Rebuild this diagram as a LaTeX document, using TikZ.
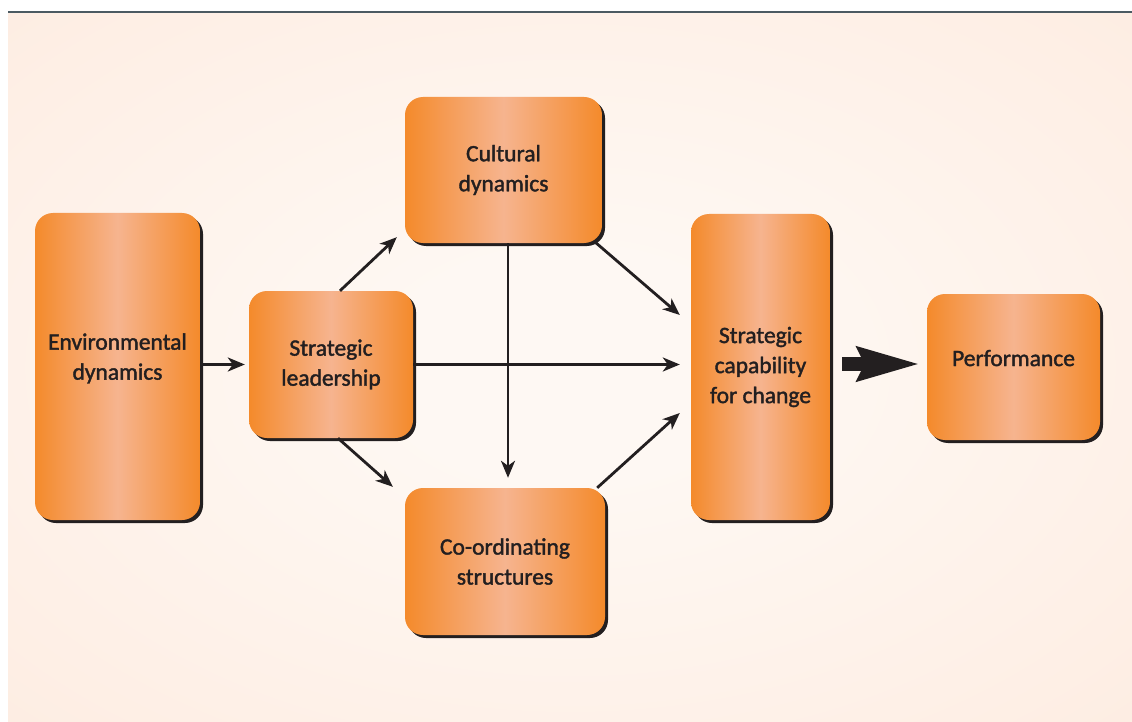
\documentclass[tikz,border=0pt]{standalone}
\usepackage{fontspec}
\setmainfont[FakeBold=1.6]{Carlito}
\usetikzlibrary{arrows.meta,calc,shadows}

\definecolor{bgout}{HTML}{FDE4D5}
\definecolor{bgin}{HTML}{FEF8F3}
\definecolor{rulecol}{HTML}{4B5A62}
\definecolor{boxdark}{HTML}{F48A2B}
\definecolor{boxlight}{HTML}{F6B48F}
\definecolor{ink}{HTML}{231F20}

\pgfdeclareradialshading{bgglow}{\pgfpoint{0bp}{0bp}}{%
  color(0bp)=(bgin); color(8bp)=(bgin); color(58bp)=(bgout); color(72bp)=(bgout)}

\tikzset{
  block/.style={
    rectangle, rounded corners=18pt,
    left color=boxdark, right color=boxdark, middle color=boxlight,
    draw=none, text=ink, align=center, inner sep=0pt,
    font=\fontsize{23.5}{30}\selectfont,
    drop shadow={shadow xshift=3pt, shadow yshift=-3pt, fill=ink, opacity=1}},
  conn/.style={draw=ink, line width=2.8pt,
    -{Stealth[length=17pt, width=14pt, inset=5pt]}},
  bigarrow/.style={draw=ink, line width=14pt,
    -{Stealth[length=62pt, width=32pt, inset=6pt]}}
}

\begin{document}
\begin{tikzpicture}[x=1pt, y=-1pt]
  \useasboundingbox (0,0) rectangle (1132,722);
  % page background and top rule
  \path[shading=bgglow] (8,13) rectangle (1132,722);
  \draw[rulecol, line width=2pt] (8,12) -- (1132,12);

  % boxes
  \node[block, minimum width=165pt, minimum height=307pt] (env) at (117.5,366.5)
    {Environmental\\dynamics\vphantom{g}\\[-10pt]};
  \node[block, minimum width=164pt, minimum height=147pt] (lead) at (331,364.5)
    {Strategic\\leadership};
  \node[block, minimum width=197pt, minimum height=146pt] (cult) at (503.5,170)
    {Cultural\\dynamics};
  \node[block, minimum width=200pt, minimum height=147pt] (coord) at (505,561.5)
    {Co-ordinating\\structures};
  \node[block, minimum width=139pt, minimum height=306pt] (scc) at (760.5,367)
    {Strategic\\capability\\for change};
  \node[block, minimum width=173pt, minimum height=146pt] (perf) at (1013.5,367)
    {Performance\\[-12pt]};

  % connectors
  \draw[conn] (env.east |- lead.west) -- ($(lead.west)+(-4,0)$);
  \draw[conn] ($(lead.north)+(9,0)$) -- ($(cult.south west)+(-8,-6)$);
  \draw[conn] ($(lead.south)+(7,0)$) -- ($(coord.north west)+(-12,-1)$);
  \draw[conn] (lead.east) -- ($(scc.west |- lead.east)+(-11,0)$);
  \draw[conn] ($(cult.south)+(4.5,0)$) -- ($(coord.north)+(3,-10)$);
  \draw[conn] ($(cult.south east)+(-7,-1)$) -- ($(scc.west)+(-11,-52)$);
  \draw[conn] ($(coord.north east)+(-8,0)$) -- ($(scc.west)+(-11,46)$);
  \draw[bigarrow] ($(scc.east)+(12,-3)$) -- ($(perf.west)+(-6,-3)$);
\end{tikzpicture}
\end{document}
